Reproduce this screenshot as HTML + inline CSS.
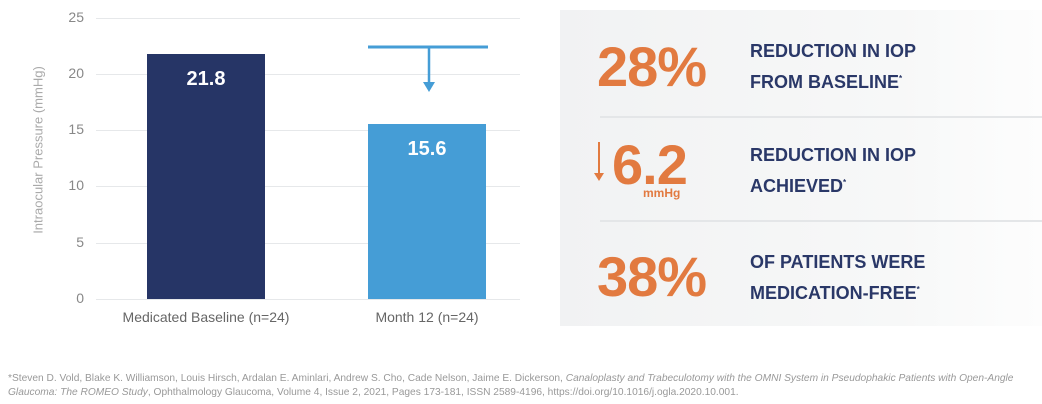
<!DOCTYPE html>
<html><head><style>
body{margin:0;width:1042px;height:404px;background:#fff;position:relative;overflow:hidden;font-family:"Liberation Sans",sans-serif}
.a{position:absolute}
.g{position:absolute;left:96px;width:424px;height:1px;background:#e6e8ea}
.t{position:absolute;left:50px;width:34px;text-align:right;font-size:14px;color:#888}
.big{position:absolute;color:#e27a40;font-weight:bold;font-size:56px;letter-spacing:-1px}
.lbl{position:absolute;left:750px;color:#2a3868;font-weight:bold;font-size:18px;line-height:28px}
.lbl sup{font-size:8px}
</style></head><body>
<div class="g" style="top:18px"></div><div class="g" style="top:74px"></div><div class="g" style="top:130px"></div>
<div class="g" style="top:186px"></div><div class="g" style="top:243px"></div><div class="g" style="top:299px"></div>
<div class="t" style="top:9px">25</div><div class="t" style="top:65px">20</div><div class="t" style="top:121px">15</div>
<div class="t" style="top:177px">10</div><div class="t" style="top:234px">5</div><div class="t" style="top:290px">0</div>
<div class="a" style="left:38px;top:150px;transform:translate(-50%,-50%) rotate(-90deg);font-size:13px;color:#aaa;white-space:nowrap">Intraocular Pressure (mmHg)</div>
<div class="a" style="left:147px;top:54px;width:118px;height:245px;background:#263566"></div>
<div class="a" style="left:147px;top:68px;width:118px;text-align:center;color:#fff;font-weight:bold;font-size:20px">21.8</div>
<div class="a" style="left:368px;top:124px;width:118px;height:175px;background:#459dd6"></div>
<div class="a" style="left:368px;top:138px;width:118px;text-align:center;color:#fff;font-weight:bold;font-size:20px">15.6</div>
<svg class="a" style="left:360px;top:40px" width="140" height="60"><line x1="8" y1="7" x2="128" y2="7" stroke="#459dd6" stroke-width="3"/><line x1="69" y1="7" x2="69" y2="44" stroke="#459dd6" stroke-width="2.5"/><path d="M63 42 L75 42 L69 52 Z" fill="#459dd6"/></svg>
<div class="a" style="left:100px;top:309px;width:212px;text-align:center;font-size:14px;color:#666">Medicated Baseline (n=24)</div>
<div class="a" style="left:340px;top:309px;width:174px;text-align:center;font-size:14px;color:#666">Month 12 (n=24)</div>
<div class="a" style="left:560px;top:10px;width:482px;height:316px;background:linear-gradient(90deg,#f1f2f3,#f7f8f8 70%,#fdfdfd)"></div>
<div class="a" style="left:600px;top:116px;width:442px;height:2px;background:#e4e6e8"></div>
<div class="a" style="left:600px;top:220px;width:442px;height:2px;background:#e4e6e8"></div>
<div class="big" style="left:597px;top:34px">28%</div>
<div class="big" style="left:612px;top:132px">6.2</div>
<div class="a" style="left:598px;top:142px;width:2px;height:34px;background:#e27a40"></div>
<div class="a" style="left:594px;top:173px;width:0;height:0;border-left:5px solid transparent;border-right:5px solid transparent;border-top:8px solid #e27a40"></div>
<div class="a" style="left:643px;top:186px;font-size:12px;font-weight:bold;color:#e27a40">mmHg</div>
<div class="big" style="left:597px;top:244px">38%</div>
<div class="lbl" style="top:37px">REDUCTION IN IOP<br>FROM BASELINE<sup>*</sup></div>
<div class="lbl" style="top:141px">REDUCTION IN IOP<br>ACHIEVED<sup>*</sup></div>
<div class="lbl" style="top:248px">OF PATIENTS WERE<br>MEDICATION-FREE<sup>*</sup></div>
<div class="a" style="left:8px;top:372px;width:1034px;font-size:10.2px;line-height:14px;color:#999;white-space:nowrap">*Steven D. Vold, Blake K. Williamson, Louis Hirsch, Ardalan E. Aminlari, Andrew S. Cho, Cade Nelson, Jaime E. Dickerson, <i>Canaloplasty and Trabeculotomy with the OMNI System in Pseudophakic Patients with Open-Angle</i><br><i>Glaucoma: The ROMEO Study</i>, Ophthalmology Glaucoma, Volume 4, Issue 2, 2021, Pages 173-181, ISSN 2589-4196, https://doi.org/10.1016/j.ogla.2020.10.001.</div>
</body></html>
